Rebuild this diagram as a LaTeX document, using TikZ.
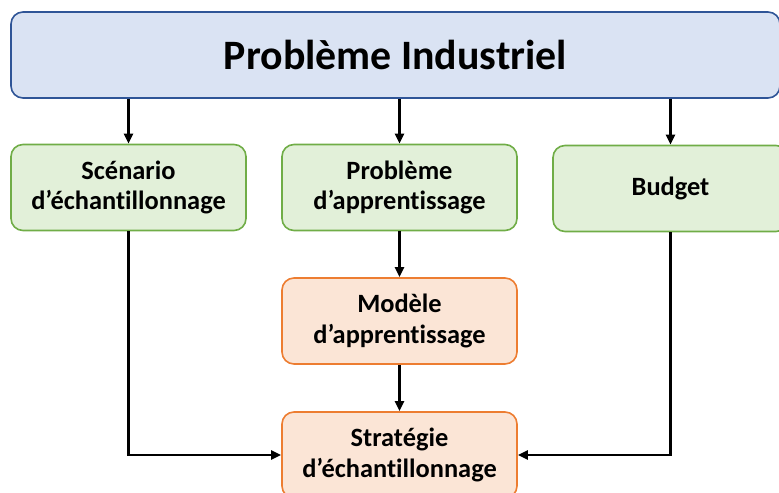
\documentclass[tikz,border=0pt]{standalone}
\usepackage{fontspec}
\setmainfont{Carlito}[Ligatures=NoCommon]
\usetikzlibrary{positioning}
\usetikzlibrary{arrows.meta}
\definecolor{blueback}{RGB}{218,227,243}
\definecolor{blueline}{RGB}{47,85,151}
\definecolor{greenback}{RGB}{226,240,217}
\definecolor{greenline}{RGB}{112,173,71}
\definecolor{orangeback}{RGB}{251,229,214}
\definecolor{orangeline}{RGB}{237,125,49}
\tikzset{
	box/.style={rounded corners=12bp, line width=1.6bp, minimum width=235bp, minimum height=86bp,
		align=center, inner sep=0pt, font=\bfseries\fontsize{26.5}{31}\selectfont},
	greenbox/.style={box, draw=greenline, fill=greenback},
	orangebox/.style={box, draw=orangeline, fill=orangeback},
	link/.style={line width=2.4bp, -{Triangle[length=10bp,width=9bp]}}
}

\begin{document}
\begin{tikzpicture}[x=1bp,y=-1bp]
			\useasboundingbox (0,0) rectangle (779,493);
			\clip (0,0) rectangle (779,493);

			% Main problem
			\node[box, draw=blueline, fill=blueback, minimum width=769bp,
				font=\bfseries\fontsize{42}{48}\selectfont] (indus) at (395.5,55) {Problème Industriel};

			% Inputs
			\node[greenbox] (scenario) at (128.5,187.5) {Scénario\\d’échantillonnage};
			\node[greenbox] (learnpb) at (399.5,187.5) {Problème\\d’apprentissage};
			\node[greenbox] (budget) at (670.5,188.5) {Budget};

			% Model and strategy
			\node[orangebox] (model) at (399.5,321) {Modèle\\d’apprentissage};
			\node[orangebox] (strategy) at (399.5,455) {Stratégie\\d’échantillonnage};

			% Links
			\draw[link] (indus.south -| scenario.north) -- (scenario.north);
			\draw[link] (indus.south -| learnpb.north) -- (learnpb.north);
			\draw[link] (indus.south -| budget.north) -- (budget.north);
			\draw[link] (learnpb) -- (model);
			\draw[link] (model) -- (strategy);
			\draw[link] (scenario.south) |- (strategy.west);
			\draw[link] (budget.south) |- (strategy.east);
		\end{tikzpicture}
\end{document}
